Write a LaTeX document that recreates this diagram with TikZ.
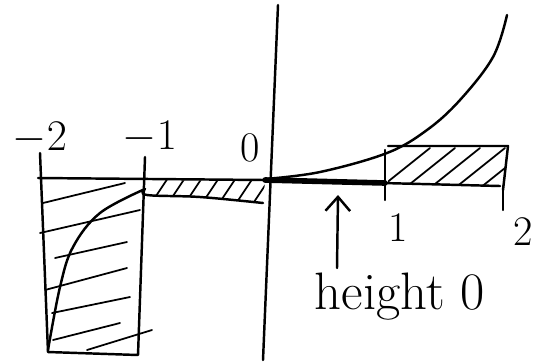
\documentclass[tikz,border=0pt]{standalone}
\usepackage{tikz}
\usetikzlibrary{arrows.meta,positioning}

\begin{document}
\begin{tikzpicture}[x=0.02cm, y=-0.02cm, line cap=round, line join=round,
    every node/.style={font=\fontsize{24}{28}\selectfont, inner sep=0pt},
    pen/.style={line width=1.4pt},
    hatch/.style={line width=1pt}]
  \useasboundingbox (0,0) rectangle (546,363);

  % axes
  \draw[pen] (278,5) -- (263,360);
  \draw[pen] (38,178) -- (265,180) -- (500,186);
  \draw[line width=3.2pt] (265,180) -- (385,183);

  % right box, 1 to 2
  \draw[pen] (385,150) -- (385,200);
  \draw[pen] (388,146) -- (508,146) -- (503,190);
  \draw[pen] (503,186) -- (503,210);
  \begin{scope}
    \clip (388,146) -- (508,146) -- (503,186) -- (388,183) -- cycle;
    \foreach \s in {380,405,430,455,480,505}
      \draw[hatch] (\s,188) -- ++(50,-40);
  \end{scope}

  % curve on the right
  \draw[pen] plot[smooth, tension=0.6] coordinates
    {(265,179) (320,172) (387,153) (427,130) (460,100) (493,57) (507,15)};

  % left box, -2 to -1
  \draw[pen] (40,153) -- (48,352) -- (138,355) -- (145,157);
  \draw[pen] plot[smooth, tension=0.6] coordinates
    {(48,350) (60,287) (73,247) (100,213) (145,189)};
  \foreach \a/\b in {{(43,203)}/{(125,183)}, {(40,233)}/{(140,210)},
      {(55,258)}/{(127,242)}, {(45,290)}/{(127,268)},
      {(52,313)}/{(130,297)}, {(53,340)}/{(120,323)},
      {(87,350)}/{(152,330)}}
    \draw[hatch] \a -- \b;

  % thin strip, -1 to 0
  \draw[pen] plot[smooth, tension=0.6] coordinates
    {(145,189) (147,195) (200,197) (263,203)};
  \begin{scope}
    \clip (147,180) -- (265,181) -- (263,203) -- (200,197) -- (147,195) -- cycle;
    \foreach \s in {150,167,184,201,218,235,252}
      \draw[hatch] (\s,205) -- ++(18,-27);
  \end{scope}

  % labels
  \node (lmtwo) at (40,138) {$-2$};
  \node (lmone) at (150,137) {$-1$};
  \node (lzero) at (250,148) {0};
  \node (lone) at (398,228) {1};
  \node (ltwo) at (523,232) {2};
  \node[font=\fontsize{30}{34}\selectfont] (note) at (400,297) {height 0};

  % arrow to the flat part
  \coordinate (tail) at (337,268);
  \coordinate (tip) at (338,195);
  \draw[pen, -{Straight Barb[length=8pt, width=14pt]}] (tail) -- (tip);
\end{tikzpicture}
\end{document}
